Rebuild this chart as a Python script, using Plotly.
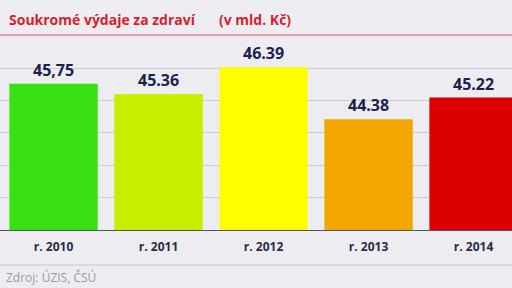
import plotly.graph_objects as go

categories = ["r. 2010", "r. 2011", "r. 2012", "r. 2013", "r. 2014"]
values = [45.75, 45.36, 46.39, 44.38, 45.22]
value_labels = ["45,75", "45.36", "46.39", "44.38", "45.22"]
bar_colors = ["#38e014", "#c6ef00", "#ffff00", "#f4a600", "#dc0000"]

W, H = 512, 288
top_px, bottom_px = 35, 230
plot_h = bottom_px - top_px
y_min = 40.1
y_max = y_min + plot_h / 25.87

def py(px):
    return (bottom_px - px) / plot_h

fig = go.Figure(go.Bar(
    x=categories, y=values,
    marker=dict(color=bar_colors, line=dict(width=0)),
    text=value_labels, textposition="outside",
    textfont=dict(family="Open Sans", size=16, color="#1c2150"),
    texttemplate="<b>%{text}</b>",
    cliponaxis=False,
))

fig.update_layout(
    width=W, height=H,
    margin=dict(l=0, r=0, t=top_px, b=H - bottom_px, pad=0),
    paper_bgcolor="#ededf1", plot_bgcolor="rgba(0,0,0,0)",
    bargap=0.158, showlegend=False,
    xaxis=dict(range=[-0.51, 4.366], showgrid=False, showline=True,
               linecolor="#555560", linewidth=1, ticks="",
               tickvals=categories,
               ticktext=["<b>%s</b>" % c for c in categories],
               tickfont=dict(family="Open Sans", size=12, color="#2b2b45"),
               ticklabelstandoff=6),
    yaxis=dict(range=[y_min, y_max], tick0=y_min, dtick=1.25, showgrid=True,
               gridcolor="#cdcdd5", gridwidth=1, showticklabels=False,
               zeroline=False, showline=False),
    shapes=[
        dict(type="line", xref="paper", yref="paper", x0=0, x1=1, y0=1, y1=1,
             line=dict(color="#d85a68", width=1)),
        dict(type="line", xref="paper", yref="paper", x0=0, x1=1,
             y0=py(265), y1=py(265), line=dict(color="#c4c4cc", width=1)),
    ],
    annotations=[
        dict(text="<b>Soukromé výdaje za zdraví</b>", xref="paper", yref="paper",
             x=7 / W, y=py(19), xanchor="left", yanchor="middle", showarrow=False,
             font=dict(family="Open Sans", size=14, color="#d71e30")),
        dict(text="<b>(v mld. Kč)</b>", xref="paper", yref="paper",
             x=217 / W, y=py(19), xanchor="left", yanchor="middle", showarrow=False,
             font=dict(family="Open Sans", size=14, color="#d71e30")),
        dict(text="Zdroj: ÚZIS, ČSÚ", xref="paper", yref="paper",
             x=4 / W, y=py(277), xanchor="left", yanchor="middle", showarrow=False,
             font=dict(family="Open Sans", size=12, color="#9a9aa2")),
    ],
)

fig.write_html("out.html")
